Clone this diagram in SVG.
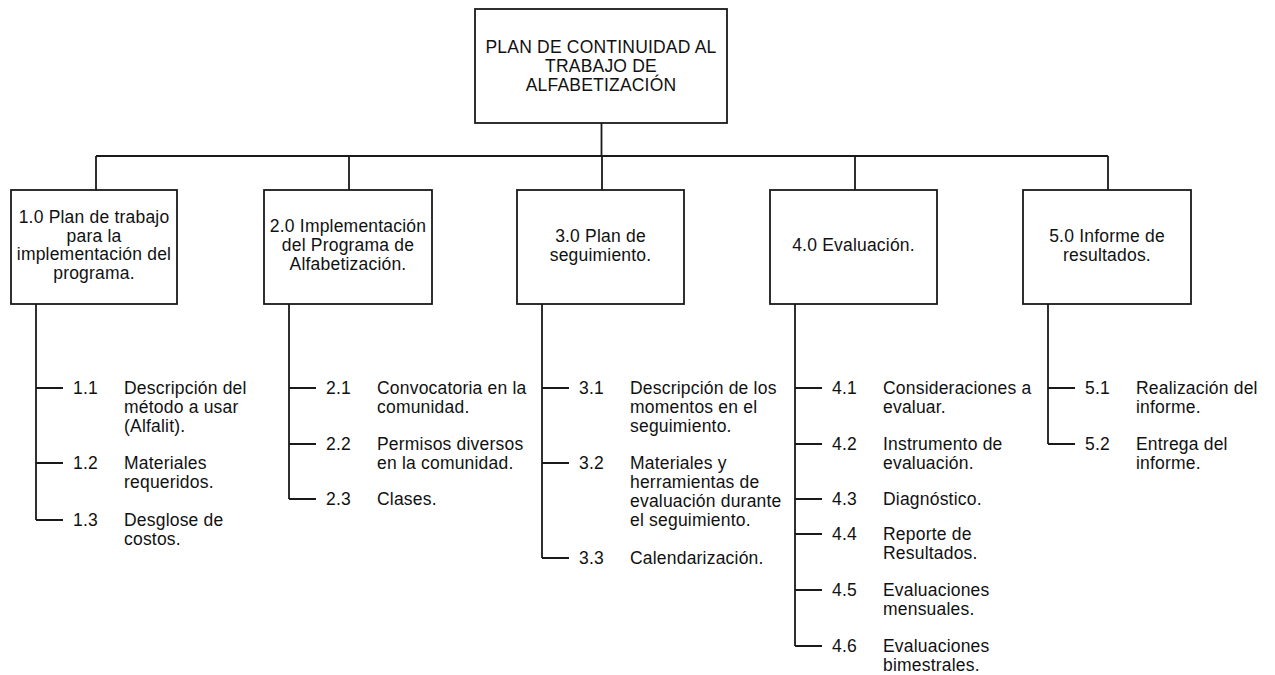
<svg xmlns="http://www.w3.org/2000/svg" width="1275" height="675" viewBox="0 0 1275 675">
<style>
  .box { fill: #ffffff; stroke: #1a1a1a; stroke-width: 1.8; }
  .ln { fill: none; stroke: #1a1a1a; stroke-width: 1.8; }
  text { font-family: "Liberation Sans", Arial, sans-serif; font-size: 17.5px; fill: #111; letter-spacing: 0.2px; }
  .c { text-anchor: middle; }
</style>
<rect width="1275" height="675" fill="#ffffff"/>
<g id="connectors">
  <path class="ln" d="M601.5 123 V156 M96 156 H1108 M96 156 V190 M349 156 V190 M602 156 V190 M855 156 V190 M1108 156 V190"/>
  <path class="ln" d="M36 304 V520 M36 388 H63 M36 463 H63 M36 520 H63"/>
  <path class="ln" d="M289 304 V499 M289 388 H316 M289 444 H316 M289 499 H316"/>
  <path class="ln" d="M542 304 V558 M542 388 H569 M542 463 H569 M542 558 H569"/>
  <path class="ln" d="M795 304 V646 M795 388 H822 M795 444 H822 M795 499 H822 M795 534 H822 M795 590 H822 M795 646 H822"/>
  <path class="ln" d="M1048 304 V444 M1048 388 H1075 M1048 444 H1075"/>
</g>
<g id="root">
  <rect class="box" x="475" y="9" width="252" height="114"/>
  <text class="c" x="601" y="53">PLAN DE CONTINUIDAD AL</text>
  <text class="c" x="601" y="72">TRABAJO DE</text>
  <text class="c" x="601" y="91">ALFABETIZACIÓN</text>
</g>
<g id="n1">
  <rect class="box" x="11" y="190" width="166" height="114"/>
  <text class="c" x="94" y="223">1.0 Plan de trabajo</text>
  <text class="c" x="94" y="241.5">para la</text>
  <text class="c" x="94" y="260">implementación del</text>
  <text class="c" x="94" y="278.5">programa.</text>
</g>
<g id="n2">
  <rect class="box" x="264" y="190" width="168" height="114"/>
  <text class="c" x="348" y="232">2.0 Implementación</text>
  <text class="c" x="348" y="251">del Programa de</text>
  <text class="c" x="348" y="270">Alfabetización.</text>
</g>
<g id="n3">
  <rect class="box" x="517" y="190" width="167" height="114"/>
  <text class="c" x="600.5" y="242">3.0 Plan de</text>
  <text class="c" x="600.5" y="261">seguimiento.</text>
</g>
<g id="n4">
  <rect class="box" x="770" y="190" width="167" height="114"/>
  <text class="c" x="853.5" y="251">4.0 Evaluación.</text>
</g>
<g id="n5">
  <rect class="box" x="1023" y="190" width="168" height="114"/>
  <text class="c" x="1107" y="242">5.0 Informe de</text>
  <text class="c" x="1107" y="261">resultados.</text>
</g>
<g id="n1-1"><text x="73" y="394">1.1</text><text x="124" y="394">Descripción del</text><text x="124" y="413">método a usar</text><text x="124" y="432">(Alfalit).</text></g>
<g id="n1-2"><text x="73" y="469">1.2</text><text x="124" y="469">Materiales</text><text x="124" y="488">requeridos.</text></g>
<g id="n1-3"><text x="73" y="526">1.3</text><text x="124" y="526">Desglose de</text><text x="124" y="545">costos.</text></g>
<g id="n2-1"><text x="326" y="394">2.1</text><text x="377" y="394">Convocatoria en la</text><text x="377" y="413">comunidad.</text></g>
<g id="n2-2"><text x="326" y="450">2.2</text><text x="377" y="450">Permisos diversos</text><text x="377" y="469">en la comunidad.</text></g>
<g id="n2-3"><text x="326" y="505">2.3</text><text x="377" y="505">Clases.</text></g>
<g id="n3-1"><text x="579" y="394">3.1</text><text x="630" y="394">Descripción de los</text><text x="630" y="413">momentos en el</text><text x="630" y="432">seguimiento.</text></g>
<g id="n3-2"><text x="579" y="469">3.2</text><text x="630" y="469">Materiales y</text><text x="630" y="488">herramientas de</text><text x="630" y="507">evaluación durante</text><text x="630" y="526">el seguimiento.</text></g>
<g id="n3-3"><text x="579" y="564">3.3</text><text x="630" y="564">Calendarización.</text></g>
<g id="n4-1"><text x="832" y="394">4.1</text><text x="883" y="394">Consideraciones a</text><text x="883" y="413">evaluar.</text></g>
<g id="n4-2"><text x="832" y="450">4.2</text><text x="883" y="450">Instrumento de</text><text x="883" y="469">evaluación.</text></g>
<g id="n4-3"><text x="832" y="505">4.3</text><text x="883" y="505">Diagnóstico.</text></g>
<g id="n4-4"><text x="832" y="540">4.4</text><text x="883" y="540">Reporte de</text><text x="883" y="559">Resultados.</text></g>
<g id="n4-5"><text x="832" y="596">4.5</text><text x="883" y="596">Evaluaciones</text><text x="883" y="615">mensuales.</text></g>
<g id="n4-6"><text x="832" y="652">4.6</text><text x="883" y="652">Evaluaciones</text><text x="883" y="671">bimestrales.</text></g>
<g id="n5-1"><text x="1085" y="394">5.1</text><text x="1136" y="394">Realización del</text><text x="1136" y="413">informe.</text></g>
<g id="n5-2"><text x="1085" y="450">5.2</text><text x="1136" y="450">Entrega del</text><text x="1136" y="469">informe.</text></g>
</svg>
